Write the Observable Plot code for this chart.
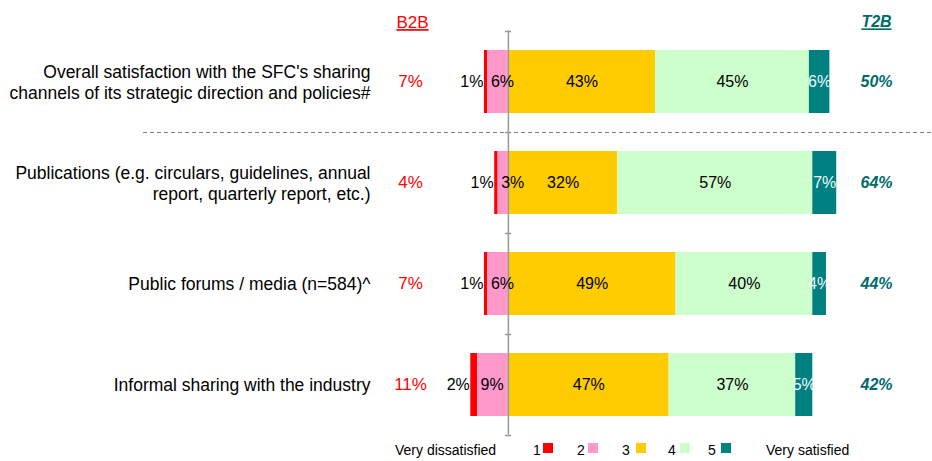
<!DOCTYPE html>
<html>
<head>
<meta charset="utf-8">
<script src="https://cdn.jsdelivr.net/npm/d3@7"></script>
<script src="https://cdn.jsdelivr.net/npm/@observablehq/plot@0.6"></script>
<style>
  body { margin: 0; background: #fff; font-family: "Liberation Sans", Arial, sans-serif; }
  #wrap { position: relative; width: 932px; height: 461px; }
  #legend { position: absolute; left: 0; top: 0; width: 932px; height: 461px; pointer-events: none; font-size: 14px; color: #000; }
  #legend span { position: absolute; line-height: 14px; }
  #legend i { position: absolute; width: 10px; height: 10px; }
</style>
</head>
<body>
<div id="wrap"><div id="chart"></div><div id="legend"></div></div>
<script>
const categories = [
  "Overall satisfaction with the SFC's sharing\nchannels of its strategic direction and policies#",
  "Publications (e.g. circulars, guidelines, annual\nreport, quarterly report, etc.)",
  "Public forums / media (n=584)^",
  "Informal sharing with the industry"
];
const levels = ["1", "2", "3", "4", "5"];
const levelColors = ["#FF0000", "#FF99CC", "#FFCC00", "#CCFFCC", "#008080"];
const v1 = [1, 1, 1, 2];
const v2 = [6, 3, 6, 9];
const v3 = [43, 32, 49, 47];
const v4 = [45, 57, 40, 37];
const v5 = [6, 7, 4, 5];
const b2b = [7, 4, 7, 11];
const t2b = [50, 64, 44, 42];
const legendLeft = "Very dissatisfied";
const legendRight = "Very satisfied";

const rows = [];
categories.forEach((cat, i) => {
  const a = -(v1[i] + v2[i]), b = -v2[i];
  const c = v3[i], d = v3[i] + v4[i], e = v3[i] + v4[i] + v5[i];
  rows.push({cat, level: "1", x1: a, x2: b, v: v1[i]});
  rows.push({cat, level: "2", x1: b, x2: 0, v: v2[i]});
  rows.push({cat, level: "3", x1: 0, x2: c, v: v3[i]});
  rows.push({cat, level: "4", x1: c, x2: d, v: v4[i]});
  rows.push({cat, level: "5", x1: d, x2: e, v: v5[i]});
});
const sideRows = categories.map((cat, i) => ({cat, b2b: b2b[i], t2b: t2b[i]}));
const mid = d => (d.x1 + d.x2) / 2;
const pct = d => d.v + "%";

const plot = Plot.plot({
  width: 932,
  height: 440,
  marginTop: 30.5,
  marginBottom: 5.5,
  marginLeft: 0,
  marginRight: 0,
  x: {domain: [-148.5, 124], axis: null},
  y: {domain: categories, axis: null, padding: 0},
  color: {domain: levels, range: levelColors},
  style: {fontFamily: "'Liberation Sans', Arial, sans-serif", fontSize: "16px", background: "#fff", overflow: "visible"},
  marks: [
    Plot.ruleY([categories[1]], {dy: -50.5, insetLeft: 143, stroke: "#808080", strokeWidth: 1, strokeDasharray: "4,3"}),
    Plot.barX(rows, {x1: "x1", x2: "x2", y: "cat", fill: "level", insetTop: 19, insetBottom: 19}),
    Plot.ruleX([0], {stroke: "#999", strokeWidth: 1.5}),
    Plot.ruleY(categories, {dy: -50.5, x1: -0.9, x2: 0.9, stroke: "#999", strokeWidth: 1.5}),
    Plot.ruleY([categories[categories.length - 1]], {dy: 50.5, x1: -0.9, x2: 0.9, stroke: "#999", strokeWidth: 1.5}),
    Plot.text(rows.filter(d => d.level === "1"), {x: "x1", y: "cat", text: pct, textAnchor: "end", dx: -1, fill: "#000", fontSize: 16}),
    Plot.text(rows.filter(d => d.level === "2"), {x: "x1", y: "cat", text: pct, textAnchor: "start", dx: 3, fill: "#000", fontSize: 16}),
    Plot.text(rows.filter(d => d.level === "3" || d.level === "4"), {x: mid, y: "cat", text: pct, fill: "#000", fontSize: 16}),
    Plot.text(rows.filter(d => d.level === "5"), {x: mid, y: "cat", text: pct, fill: "#F0F8F8", fontSize: 16}),
    Plot.text(categories, {y: d => d, text: d => d, frameAnchor: "left", dx: 370, textAnchor: "end", lineHeight: 1.15, fill: "#000", fontSize: 17.5}),
    Plot.text(sideRows, {y: "cat", text: d => d.b2b + "%", frameAnchor: "left", dx: 410, textAnchor: "middle", fill: "#FF0000", fontSize: 17}),
    Plot.text(sideRows, {y: "cat", text: d => d.t2b + "%", frameAnchor: "left", dx: 876, textAnchor: "middle", fill: "#006B6B", fontWeight: "bold", fontStyle: "italic", fontSize: 16}),
    Plot.text(["B2B"], {frameAnchor: "top-left", dx: 412, dy: -15, textAnchor: "middle", fill: "#FF0000", fontSize: 17}),
    Plot.text(["T2B"], {frameAnchor: "top-left", dx: 876, dy: -15, textAnchor: "middle", fill: "#006B6B", fontWeight: "bold", fontStyle: "italic", fontSize: 16})
  ]
});
d3.select(plot).selectAll("text").filter(function() { return this.textContent === "B2B" || this.textContent === "T2B"; })
  .style("text-decoration", "underline");
document.getElementById("chart").appendChild(plot);

// legend
const legend = d3.select("#legend");
legend.append("span").style("left", "395px").style("top", "443px").text(legendLeft);
const numLeft = [533, 577, 622, 668, 708];
const boxLeft = [543, 588, 636, 680, 721];
levels.forEach((l, i) => {
  legend.append("span").style("left", numLeft[i] + "px").style("top", "443px").text(l);
  legend.append("i").style("left", boxLeft[i] + "px").style("top", "443px").style("background", levelColors[i]);
});
legend.append("span").style("left", "766px").style("top", "443px").text(legendRight);
</script>
</body>
</html>
